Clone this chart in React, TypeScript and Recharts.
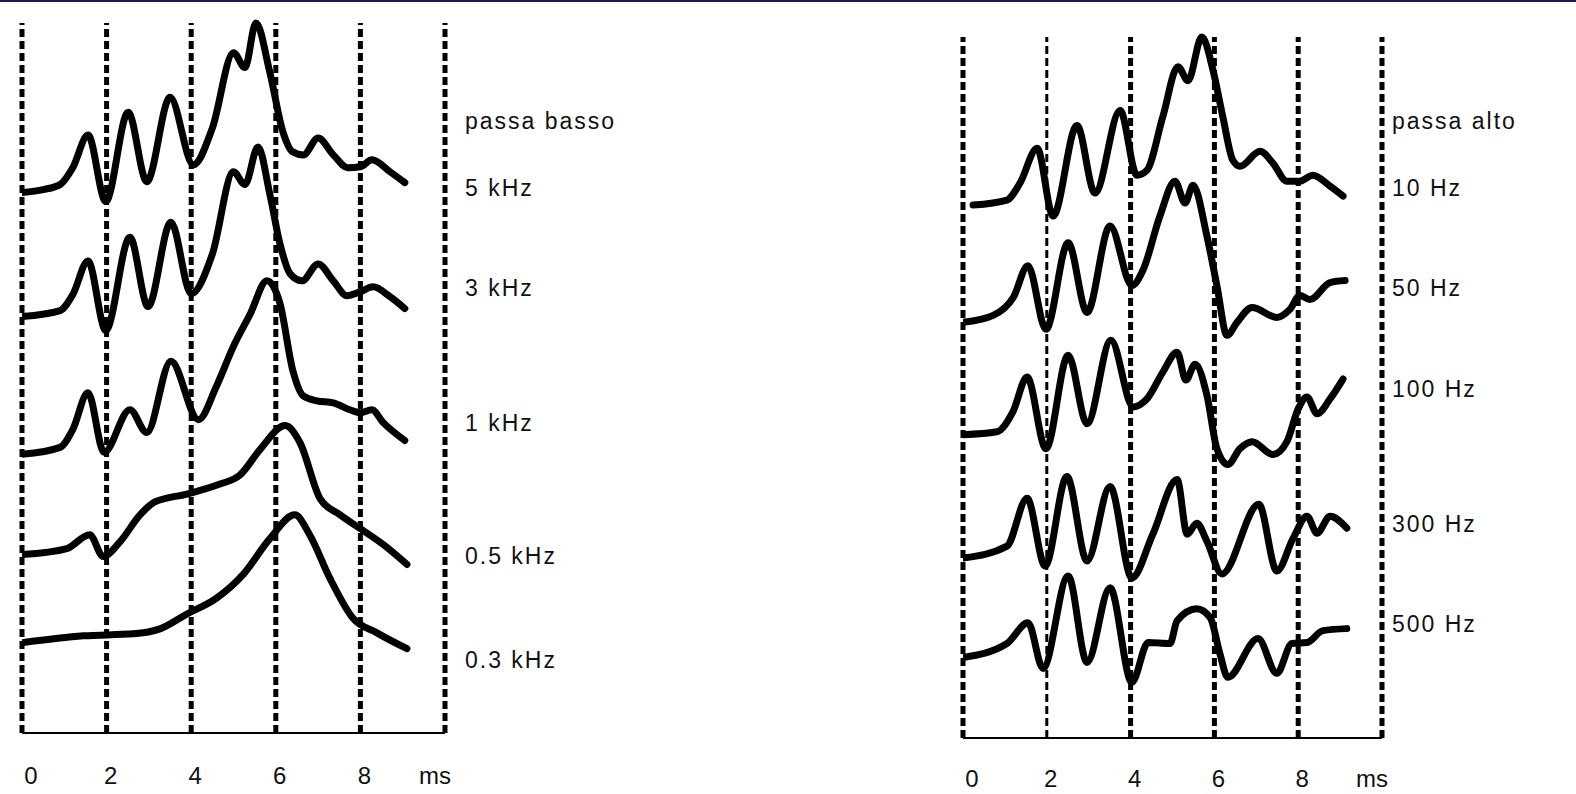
import { LineChart, Line, XAxis, YAxis, ReferenceLine } from "recharts";

// time (ms) vs amplitude for each trace, amplitude measured from the trace's own start level
const lowPass5k: [number, number][] = [[0, 0], [0.5, 3], [0.9, 8], [1.2, 25], [1.56, 58], [1.98, -9], [2.51, 81], [2.95, 11], [3.5, 96], [4.05, 28], [4.5, 65], [5.0, 141], [5.27, 126], [5.53, 171], [5.86, 121], [6.17, 61], [6.4, 41], [6.65, 38], [7.0, 55], [7.36, 38], [7.7, 25], [8.0, 26], [8.27, 33], [8.7, 21], [9.05, 10]];
const lowPass3k: [number, number][] = [[0, 0], [0.9, 6], [1.2, 22], [1.56, 56], [1.98, -14], [2.55, 80], [2.98, 10], [3.52, 95], [4.0, 23], [4.5, 63], [5.0, 146], [5.27, 133], [5.58, 171], [5.86, 123], [6.1, 73], [6.34, 43], [6.62, 36], [7.0, 53], [7.36, 36], [7.68, 21], [8.0, 25], [8.3, 30], [8.7, 20], [9.05, 8]];
const lowPass1k: [number, number][] = [[0, 0], [0.9, 7], [1.2, 25], [1.56, 62], [1.94, 2], [2.55, 45], [2.95, 22], [3.52, 94], [4.17, 35], [4.6, 69], [5.0, 109], [5.4, 142], [5.79, 175], [6.1, 152], [6.4, 85], [6.65, 59], [6.97, 54], [7.36, 52], [7.75, 45], [8.0, 42], [8.27, 45], [8.54, 32], [9.05, 14]];
const lowPass05k: [number, number][] = [[0, 0], [1.06, 6], [1.6, 20], [1.92, -2], [2.32, 13], [2.79, 40], [3.14, 53], [3.9, 61], [4.68, 71], [5.15, 80], [5.63, 106], [6.22, 130], [6.57, 113], [7.05, 56], [7.52, 40], [8.0, 26], [8.54, 10], [9.1, -10]];
const lowPass03k: [number, number][] = [[0, 0], [1.45, 7], [2.63, 9], [3.26, 14], [3.9, 29], [4.6, 45], [5.23, 69], [5.86, 105], [6.45, 129], [6.8, 109], [7.28, 65], [7.82, 25], [8.39, 10], [9.1, -6]];

const highPass10: [number, number][] = [[0.24, 0], [1.05, 5], [1.36, 22], [1.77, 57], [2.15, -11], [2.72, 80], [3.15, 12], [3.75, 95], [4.15, 30], [4.39, 35], [4.77, 89], [5.13, 139], [5.37, 125], [5.7, 169], [5.97, 135], [6.2, 89], [6.44, 45], [6.61, 39], [7.09, 54], [7.4, 42], [7.73, 24], [8.04, 24], [8.35, 30], [8.76, 19], [9.07, 9]];
const highPass50: [number, number][] = [[0, 0], [0.72, 7], [1.2, 25], [1.55, 57], [1.98, -7], [2.51, 80], [2.96, 10], [3.51, 97], [4.03, 37], [4.3, 53], [4.7, 107], [5.06, 142], [5.3, 120], [5.49, 138], [5.82, 87], [6.06, 37], [6.3, -13], [6.54, 0], [6.9, 15], [7.49, 5], [7.8, 13], [8.04, 27], [8.28, 23], [8.76, 40], [9.12, 42]];
const highPass100: [number, number][] = [[0, 0], [0.81, 3], [1.19, 23], [1.53, 58], [1.98, -14], [2.51, 80], [2.96, 11], [3.53, 95], [4.06, 28], [4.39, 36], [4.77, 63], [5.11, 83], [5.32, 55], [5.54, 71], [5.82, 40], [6.06, -14], [6.32, -30], [6.61, -14], [6.9, -7], [7.4, -20], [7.73, -7], [8.0, 26], [8.21, 38], [8.45, 21], [8.76, 36], [9.07, 56]];
const highPass300: [number, number][] = [[0, 0], [1.05, 12], [1.53, 60], [1.96, -8], [2.48, 82], [2.96, -3], [3.51, 72], [4.03, -20], [4.53, 24], [5.11, 79], [5.35, 24], [5.58, 35], [5.82, 17], [6.18, -16], [7.06, 54], [7.49, -13], [7.88, 20], [8.21, 42], [8.45, 25], [8.76, 42], [9.16, 30]];
const highPass500: [number, number][] = [[0, 0], [1.05, 14], [1.55, 35], [1.91, -11], [2.51, 82], [2.96, -5], [3.51, 70], [4.03, -25], [4.42, 15], [4.94, 14], [5.11, 37], [5.58, 49], [5.9, 40], [6.13, 4], [6.32, -20], [7.04, 19], [7.49, -16], [7.85, 14], [8.21, 15], [8.59, 27], [9.16, 29]];

// vertical stacking offset of each trace
const lowPassOffsets = [545, 420, 281, 180, 91];
const highPassOffsets = [536, 418, 305, 181, 81];

const lowPassNames = ["5 kHz", "3 kHz", "1 kHz", "0.5 kHz", "0.3 kHz"];
const highPassNames = ["10 Hz", "50 Hz", "100 Hz", "300 Hz", "500 Hz"];

const timeTicks = [0, 2, 4, 6, 8, 10];
const tickText = ["0", "2", "4", "6", "8", "ms"];

const lowPassTraces = [lowPass5k, lowPass3k, lowPass1k, lowPass05k, lowPass03k];
const highPassTraces = [highPass10, highPass50, highPass100, highPass300, highPass500];

const font = "'Liberation Sans', Arial, sans-serif";

function build(trace: [number, number][], offset: number) {
  return trace.map(([t, a]) => ({ t, v: a + offset }));
}

function TimeTick({ x, y, payload, dyc }: any) {
  const i = timeTicks.indexOf(payload.value);
  const label = tickText[i];
  let shift = 4;
  if (i === 0) shift = 9;
  if (label === "ms") shift = -10;
  return (
    <text
      x={x + shift}
      y={y + dyc}
      textAnchor="middle"
      dominantBaseline="central"
      fontFamily={font}
      fontSize={24}
      fill="#111"
    >
      {label}
    </text>
  );
}

function Panel({ traces, offsets, margin, yMax, thinAt, dyc }: any) {
  return (
    <LineChart width={788} height={794} margin={margin}>
      <XAxis
        dataKey="t"
        type="number"
        domain={[0, 10]}
        ticks={timeTicks}
        allowDataOverflow
        height={50}
        tickLine={false}
        axisLine={{ stroke: "#000", strokeWidth: 2 }}
        tick={<TimeTick dyc={dyc} />}
        interval={0}
      />
      <YAxis type="number" domain={[0, yMax]} hide />
      {timeTicks.map((t) => (
        <ReferenceLine
          key={t}
          x={t}
          stroke="#000"
          strokeWidth={t === thinAt ? 3 : 5}
          strokeDasharray="8 4"
        />
      ))}
      {traces.map((tr: [number, number][], i: number) => (
        <Line
          key={i}
          data={build(tr, offsets[i])}
          dataKey="v"
          type="monotone"
          stroke="#000"
          strokeWidth={7}
          strokeLinecap="round"
          strokeLinejoin="round"
          dot={false}
          activeDot={false}
          isAnimationActive={false}
        />
      ))}
    </LineChart>
  );
}

const labelStyle = (x: number, y: number): any => ({
  position: "absolute",
  left: x,
  top: y - 13,
  lineHeight: "26px",
  fontFamily: font,
  fontSize: 23,
  letterSpacing: 2,
  color: "#111",
  whiteSpace: "nowrap",
});

const lowLabelY = [188, 288, 423, 556, 660];
const highLabelY = [188, 288, 389, 524, 624];

export default function App() {
  return (
    <div
      style={{
        position: "absolute",
        left: 0,
        top: 0,
        width: 1576,
        height: 794,
        background: "#fff",
      }}
    >
      <div style={{ position: "absolute", left: 0, top: 0, width: 1576, height: 2, background: "#1c1c4c", zIndex: 2 }} />
      <div style={{ position: "absolute", left: 0, top: 0 }}>
        <Panel
          traces={lowPassTraces}
          offsets={lowPassOffsets}
          margin={{ top: 23, left: 22, right: 343, bottom: 11 }}
          yMax={710}
          thinAt={-1}
          dyc={34}
        />
      </div>
      <div style={{ position: "absolute", left: 788, top: 0 }}>
        <Panel
          traces={highPassTraces}
          offsets={highPassOffsets}
          margin={{ top: 37, left: 175, right: 194, bottom: 6 }}
          yMax={701}
          thinAt={2}
          dyc={32}
        />
      </div>
      <div style={labelStyle(465, 121)}>passa basso</div>
      {lowPassNames.map((n, i) => (
        <div key={n} style={labelStyle(465, lowLabelY[i])}>{n}</div>
      ))}
      <div style={labelStyle(1392, 121)}>passa alto</div>
      {highPassNames.map((n, i) => (
        <div key={n} style={labelStyle(1392, highLabelY[i])}>{n}</div>
      ))}
    </div>
  );
}
